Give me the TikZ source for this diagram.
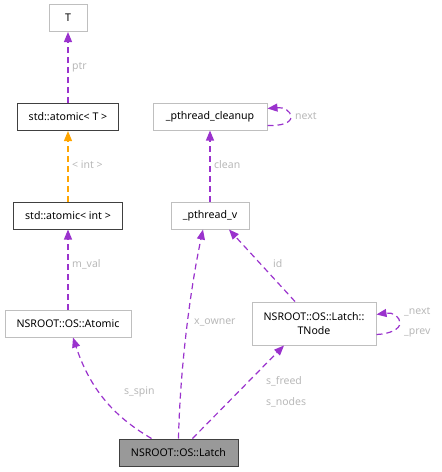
\documentclass[tikz,border=0pt]{standalone}
\usepackage{fontspec}
\setmainfont{Noto Sans}
\usetikzlibrary{arrows.meta}

\definecolor{edgepurple}{HTML}{9A32CD}
\definecolor{edgeorange}{HTML}{FFA500}
\definecolor{lightframe}{HTML}{BFBFBF}
\definecolor{darkframe}{HTML}{404040}
\definecolor{labelgray}{HTML}{B8B8B8}

\tikzset{
  cls/.style={draw=lightframe, line width=1pt, inner sep=0pt, minimum height=27pt, align=center, font=\fontsize{10.6}{13.5}\selectfont},
  clsdark/.style={cls, draw=darkframe},
  rel/.style={draw=edgepurple, line width=1.2pt, dash pattern=on 6pt off 4pt, -{Triangle[length=10pt,width=8pt]}},
  lbl/.style={text=labelgray, anchor=west, inner sep=0pt, font=\fontsize{10.5}{12}\selectfont}
}

\begin{document}
\begin{tikzpicture}[x=1pt,y=-1pt]

\useasboundingbox (0,0) rectangle (442,472);

%classes

\node[cls, minimum width=38pt] (T) at (68,18) {T};
\node[clsdark, minimum width=101pt] (atomicT) at (68,117) {std::atomic< T >};
\node[clsdark, minimum width=109pt] (atomicInt) at (68,215.5) {std::atomic< int >};
\node[cls, minimum width=126pt] (atomic) at (68,323.5) {NSROOT::OS::Atomic};
\node[clsdark, fill=gray!80, minimum width=119pt] (latch) at (178.5,452.5) {NSROOT::OS::Latch};
\node[cls, minimum width=114pt] (cleanup) at (210,116.5) {\_pthread\_cleanup};
\node[cls, minimum width=78pt] (pthreadv) at (210,215.5) {\_pthread\_v};
\node[cls, minimum width=124pt, minimum height=43pt] (tnode) at (314,323.5) {NSROOT::OS::Latch::\\TNode};

%left column

\draw[rel] (atomicT.north) -- (T.south); % ptr
\draw[rel, draw=edgeorange] (atomicInt.north) -- (atomicT.south); % template
\draw[rel] (atomic.north) -- (atomicInt.south); % m_val

%right column

\draw[rel] (pthreadv.north) -- (cleanup.south); % clean
\draw[rel] ([yshift=-9pt]cleanup.east) .. controls (281,126) and (291,123) .. (291,117) .. controls (291,111) and (284,107) .. ([yshift=8pt]cleanup.east); % next
\draw[rel] ([xshift=-19pt]tnode.north) -- ([xshift=19pt]pthreadv.south); % id
\draw[rel] ([yshift=-11pt]tnode.east) .. controls (390,334) and (400,329) .. (400,323) .. controls (400,317) and (393,312) .. ([yshift=9pt]tnode.east); % _next / _prev

%latch members

\draw[rel] ([xshift=-27pt]latch.north) .. controls (120,420) and (92,395) .. ([xshift=5pt]atomic.south); % s_spin
\draw[rel] (latch.north) .. controls (180,370) and (190,290) .. ([xshift=-7pt]pthreadv.south); % x_owner
\draw[rel] ([xshift=14pt]latch.north) -- ([xshift=-30pt]tnode.south); % s_freed / s_nodes

%labels

\node[lbl] (lptr) at (72,67) {ptr};
\node[lbl] (lint) at (72,165) {< int >};
\node[lbl] (lmval) at (72,264) {m\_val};
\node[lbl] (lclean) at (214,165) {clean};
\node[lbl] (lnext) at (295,116) {next};
\node[lbl] (lowner) at (194,322) {x\_owner};
\node[lbl] (lid) at (273,264) {id};
\node[lbl] (lspin) at (124,392) {s\_spin};
\node[lbl] (lfreed) at (266,381) {s\_freed};
\node[lbl] (lnodes) at (266,402) {s\_nodes};
\node[lbl] (lnextn) at (404,312) {\_next};
\node[lbl] (lprev) at (404,333) {\_prev};

\end{tikzpicture}
\end{document}
